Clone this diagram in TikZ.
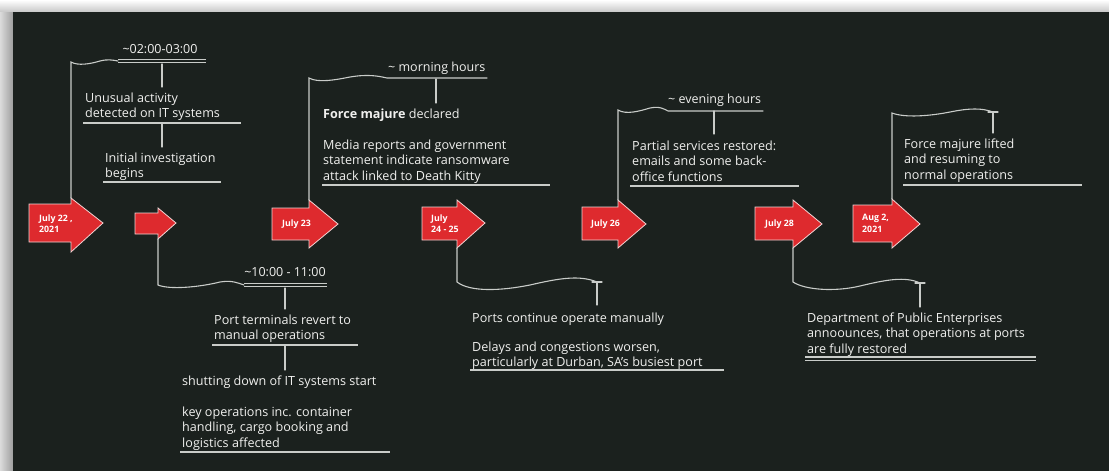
\documentclass[tikz,border=0pt]{standalone}
\usepackage{fontspec}
\setmainfont{Open Sans}
\definecolor{bg}{HTML}{1B211E}
\definecolor{ln}{HTML}{C9CCC9}
\definecolor{tx}{HTML}{F0F0EE}
\definecolor{rd}{HTML}{DE2A2E}
\definecolor{rdl}{HTML}{F2D4D4}
\tikzset{
  conn/.style={draw=ln, line width=1.1pt, line cap=round},
  rule/.style={draw=ln, line width=1.1pt},
  txt/.style={text=tx, font=\fontsize{12.6}{15.5}\selectfont, align=left, anchor=north west, inner sep=0pt, yshift=-2.5pt},
  tm/.style={text=tx, font=\fontsize{12.5}{15}\selectfont, inner sep=0pt},
  lbl/.style={text=white, font=\fontsize{8.8}{11.5}\selectfont\bfseries, align=left, anchor=west, inner sep=0pt},
  redarrow/.style={fill=rd, draw=rdl, line width=0.8pt, line join=miter},
}
\begin{document}
\begin{tikzpicture}[x=1pt,y=-1pt]
\useasboundingbox (0,0) rectangle (1109,471);
% margins with shadow
\fill[white] (0,0) rectangle (1109,471);
\shade[top color=white, bottom color=black!22] (0,0) rectangle (1109,12);
\shade[left color=black!14, right color=black!38] (0,12) rectangle (13,471);
\fill[bg] (13,12) rectangle (1109,471);

% ---------- red arrows ----------
\draw[redarrow] (29,204) -- (71,204) -- (71,198) -- (103,223) -- (71,252) -- (71,242) -- (29,242) -- cycle;
\draw[redarrow] (135,213) -- (158,213) -- (158,208) -- (176,223) -- (158,239) -- (158,234) -- (135,234) -- cycle;
\draw[redarrow] (272,208) -- (309,208) -- (309,200) -- (338,224) -- (309,248) -- (309,240) -- (272,240) -- cycle;
\draw[redarrow] (422,207) -- (457,207) -- (457,200) -- (485,223) -- (457,248) -- (457,240) -- (422,240) -- cycle;
\draw[redarrow] (582,207) -- (618,207) -- (618,200) -- (646,224) -- (618,248) -- (618,240) -- (582,240) -- cycle;
\draw[redarrow] (755,207) -- (793,207) -- (793,200) -- (822,224) -- (793,248) -- (793,240) -- (755,240) -- cycle;
\draw[redarrow] (853,205) -- (892,205) -- (892,199) -- (920,224) -- (892,248) -- (892,242) -- (853,242) -- cycle;

\node[lbl] (a1) at (39,223.5) {July 22 ,\\2021};
\node[lbl] (a3) at (282,224) {July 23};
\node[lbl] (a4) at (431,223.5) {July\\24 - 25};
\node[lbl] (a5) at (591,224) {July 26};
\node[lbl] (a6) at (765,224) {July 28};
\node[lbl] (a7) at (862,223.5) {Aug 2,\\2021};

\coordinate (h1) at (71,198);
\coordinate (h2) at (158,239);
\coordinate (h3) at (309,200);
\coordinate (h4) at (457,248);
\coordinate (h5) at (618,200);
\coordinate (h6) at (793,248);
\coordinate (h7) at (892,199);

% ---------- July 22 block ----------
\node[tm] (t1) at (160,49) {\char`\~02:00-03:00};
\draw[conn] (h1) -- (71,62) .. controls (78,66) and (90,64) .. (100,61) .. controls (108,59) and (112,60) .. (118,61);
\draw[rule] (118,59.5) -- (206,59.5) (118,62.5) -- (206,62.5);
\node[txt] (e1) at (85,90) {Unusual activity\\detected on IT systems};
\draw[conn] (162,64) -- (162,87);
\draw[rule] (83,123) -- (241,123);
\draw[conn] (162,124) -- (162,147);
\node[txt] (e2) at (105,150) {Initial investigation\\begins};
\draw[rule] (103,182) -- (221,182);

% ---------- small arrow block ----------
\node[tm] (t2) at (285,272) {\char`\~10:00 - 11:00};
\draw[conn] (h2) -- (158,285) .. controls (170,290) and (200,287) .. (220,282) .. controls (232,280) and (238,283) .. (244,285);
\draw[rule] (244,283.5) -- (327,283.5) (244,286.5) -- (327,286.5);
\draw[conn] (285,288) -- (285,309);
\node[txt] (e3) at (214,312) {Port terminals revert to\\manual operations};
\draw[rule] (212,345) -- (358,345);
\draw[conn] (285,346) -- (285,370);
\node[txt] (e4) at (182,373) {shutting down of IT systems start};
\node[txt] (e5) at (182,404) {key operations inc. container\\handling, cargo booking and\\logistics affected};
\draw[rule] (180,452) -- (390,452);

% ---------- July 23 block ----------
\node[tm, anchor=west] (t3) at (388,68) {\char`\~{} morning hours};
\draw[conn] (h3) -- (309,78) .. controls (318,83) and (335,80) .. (350,77) .. controls (368,74) and (378,76) .. (387,78) -- (487,78);
\draw[conn] (436,79) -- (436,103);
\node[txt] (e6) at (323,106) {\textbf{Force majure} declared};
\node[txt] (e7) at (323,137) {Media reports and government\\statement indicate ransomware\\attack linked to Death Kitty};
\draw[rule] (322,185) -- (550,185);

% ---------- July 24-25 block ----------
\draw[conn] (h4) -- (457,282) .. controls (470,292) and (500,291) .. (530,285) .. controls (560,278) and (580,275) .. (597,282);
\draw[conn] (592,282) -- (602,282) (597,282) -- (597,305);
\node[txt] (e8) at (472,310) {Ports continue operate manually};
\node[txt] (e9) at (472,339) {Delays and congestions worsen,\\particularly at Durban, SA's busiest port};
\draw[rule] (470,370) -- (724,370);

% ---------- July 26 block ----------
\node[tm, anchor=west] (t5) at (668,100) {\char`\~{} evening hours};
\draw[conn] (h5) -- (618,110) .. controls (626,115) and (640,111) .. (650,108) .. controls (660,106) and (664,109) .. (668,111) -- (763,111);
\draw[conn] (714,111) -- (714,134);
\node[txt] (e10) at (632,138) {Partial services restored:\\emails and some back-\\office functions};
\draw[rule] (630,186) -- (799,186);

% ---------- July 28 block ----------
\draw[conn] (h6) -- (793,282) .. controls (805,290) and (835,292) .. (860,286) .. controls (885,280) and (905,276) .. (920,283);
\draw[conn] (915,283) -- (925,283) (920,283) -- (920,307);
\node[txt] (e11) at (807,310) {Department of Public Enterprises\\annoounces, that operations at ports\\are fully restored};
\draw[rule] (805,357) -- (1036,357) (805,360.5) -- (1036,360.5);

% ---------- Aug 2 block ----------
\draw[conn] (h7) -- (892,113) .. controls (905,118) and (930,116) .. (950,112) .. controls (970,108) and (982,108) .. (993,112);
\draw[conn] (988,112) -- (998,112) (993,112) -- (993,133);
\node[txt] (e12) at (904,136) {Force majure lifted\\and resuming to\\normal operations};
\draw[rule] (903,185) -- (1082,185);
\end{tikzpicture}
\end{document}
